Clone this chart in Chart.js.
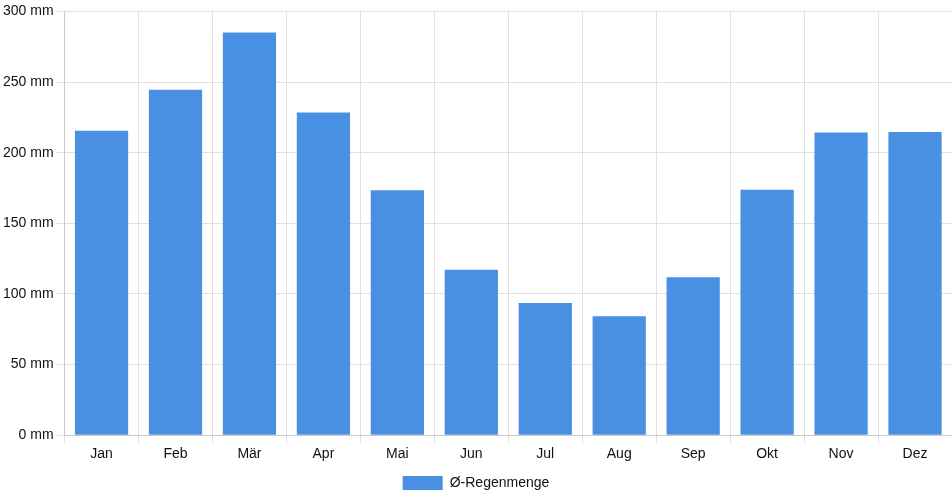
<!DOCTYPE html>
<html>
<head>
<meta charset="utf-8">
<script src="https://cdn.jsdelivr.net/npm/chart.js@4/dist/chart.umd.min.js"></script>
<style>
html,body{margin:0;padding:0;background:#fff;}
#wrap{width:952px;height:500px;position:relative;}
</style>
</head>
<body>
<div id="wrap"><canvas id="c"></canvas></div>
<script>
const months = ["Jan","Feb","Mär","Apr","Mai","Jun","Jul","Aug","Sep","Okt","Nov","Dez"];
const rainfall = [215.6, 244.6, 285.1, 228.5, 173.4, 117.2, 93.6, 84.2, 111.8, 173.8, 214.2, 214.6];
const seriesLabel = "Ø-Regenmenge";
const yTicks = [0, 50, 100, 150, 200, 250, 300];

Chart.defaults.font.family = "'Liberation Sans', Arial, Helvetica, sans-serif";
Chart.defaults.font.size = 14;
Chart.defaults.color = "#111";

new Chart(document.getElementById('c'), {
  type: 'bar',
  data: {
    labels: months,
    datasets: [{
      label: seriesLabel,
      data: rainfall,
      backgroundColor: '#4a90e2',
      borderWidth: 0
    }]
  },
  options: {
    responsive: true,
    maintainAspectRatio: false,
    animation: false,
    layout: { padding: { left: 0, right: 0, top: 4, bottom: 0 } },
    plugins: {
      legend: {
        position: 'bottom',
        labels: { boxWidth: 40, boxHeight: 14, color: '#111' }
      },
      tooltip: { enabled: false }
    },
    scales: {
      x: {
        grid: { color: '#e0e0e0' },
        ticks: { color: '#111' }
      },
      y: {
        min: 0, max: 300,
        afterBuildTicks: (axis) => { axis.ticks = yTicks.map(v => ({ value: v })); },
        grid: { color: '#e0e0e0' },
        ticks: { color: '#111', callback: (v) => v + ' mm' }
      }
    }
  }
});
</script>
</body>
</html>
